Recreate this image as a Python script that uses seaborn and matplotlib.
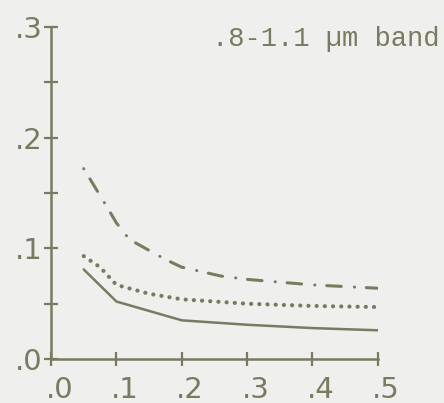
import matplotlib
matplotlib.use("Agg")
import matplotlib.pyplot as plt
import matplotlib.transforms as mtransforms
import seaborn as sns
import pandas as pd
import numpy as np

# data
x_solid = [0.05, 0.1, 0.2, 0.3, 0.4, 0.5]
y_solid = [0.081, 0.052, 0.035, 0.031, 0.028, 0.026]

x_dot = [0.05, 0.075, 0.1, 0.15, 0.2, 0.3, 0.4, 0.5]
y_dot = [0.093, 0.083, 0.067, 0.059, 0.054, 0.050, 0.048, 0.047]

x_dashdot = [0.05, 0.085, 0.1, 0.12, 0.175, 0.2, 0.26, 0.3, 0.4, 0.5]
y_dashdot = [0.172, 0.138, 0.123, 0.108, 0.090, 0.083, 0.075, 0.072, 0.067, 0.064]

xticks = [0.0, 0.1, 0.2, 0.3, 0.4, 0.5]
xtick_labels = [".0", ".1", ".2", ".3", ".4", ".5"]
yticks = [0.0, 0.1, 0.2, 0.3]
ytick_labels = [".0", ".1", ".2", ".3"]
yminor = [0.05, 0.15, 0.25]
annotation = ".8-1.1 \u00b5m band"

ink = "#7b7a60"
bg = "#efefed"

sns.set_style("ticks")
plt.rcParams["font.family"] = ["DejaVu Sans"]
plt.rcParams["lines.scale_dashes"] = False

fig = plt.figure(figsize=(4.44, 4.03), dpi=100, facecolor=bg)
ax = fig.add_axes([0.115, 0.109, 0.736, 0.824])
ax.set_facecolor(bg)

df_s = pd.DataFrame({"x": x_solid, "y": y_solid})
df_d = pd.DataFrame({"x": x_dot, "y": y_dot})
df_dd = pd.DataFrame({"x": x_dashdot, "y": y_dashdot})

sns.lineplot(data=df_s, x="x", y="y", ax=ax, color=ink, linewidth=1.8, sort=False)
sns.lineplot(data=df_d, x="x", y="y", ax=ax, color=ink, linewidth=3.0, sort=False,
             linestyle=(0, (0.1, 5.8)), dash_capstyle="round")
sns.lineplot(data=df_dd, x="x", y="y", ax=ax, color=ink, linewidth=2.2, sort=False,
             linestyle=(0, (0.1, 8.5, 10.5, 9.5)), dash_capstyle="round")

ax.set_xlim(0, 0.5)
ax.set_ylim(0, 0.3)
ax.set_xlabel("")
ax.set_ylabel("")
sns.despine(ax=ax)
for s in ["left", "bottom"]:
    ax.spines[s].set_color(ink)
    ax.spines[s].set_linewidth(1.8)

ax.set_xticks(xticks)
ax.set_xticklabels(xtick_labels)
ax.set_yticks(yticks)
ax.set_yticklabels(ytick_labels)
ax.set_yticks(yminor, minor=True)
ax.tick_params(axis="both", which="both", direction="inout", length=10, width=1.6,
               color=ink, labelcolor=ink, labelsize=21)
ax.tick_params(axis="x", pad=7)
ax.tick_params(axis="y", pad=1)

off = mtransforms.ScaledTranslation(6 / 72, 0, fig.dpi_scale_trans)
for lab in ax.get_xticklabels():
    lab.set_transform(lab.get_transform() + off)

fig.text(0.99, 0.886, annotation, ha="right", va="baseline", color=ink,
         fontsize=19.5, family=["Liberation Mono", "DejaVu Sans Mono"])

fig.savefig("out.png", dpi=100, facecolor=bg)
